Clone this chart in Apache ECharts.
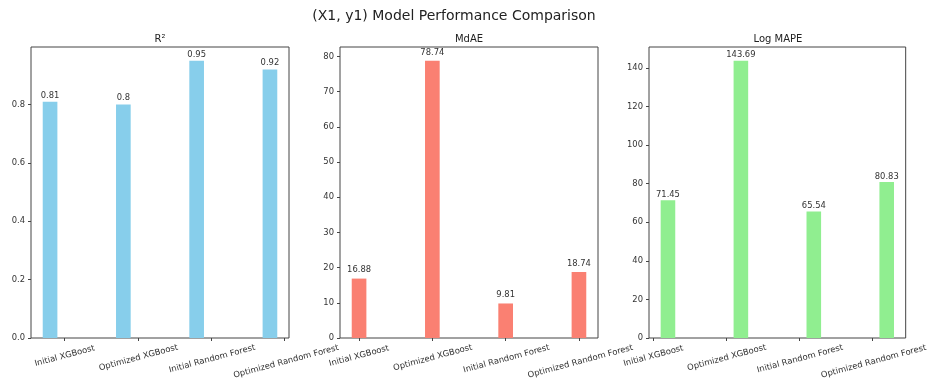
<!DOCTYPE html>
<html>
<head>
<meta charset="utf-8">
<script src="https://cdn.jsdelivr.net/npm/echarts@6/dist/echarts.min.js"></script>
<style>
html,body{margin:0;padding:0;background:#fff;}
#chart{width:930px;height:385px;}
</style>
</head>
<body>
<div id="chart"></div>
<script>
const mainTitle = '(X1, y1) Model Performance Comparison';
const models = ['Initial XGBoost', 'Optimized XGBoost', 'Initial Random Forest', 'Optimized Random Forest'];
const panelTitles = ['R²', 'MdAE', 'Log MAPE'];
const r2Values = [0.81, 0.8, 0.95, 0.92];
const mdaeValues = [16.88, 78.74, 9.81, 18.74];
const logMapeValues = [71.45, 143.69, 65.54, 80.83];
const r2Ticks = [0, 0.2, 0.4, 0.6, 0.8];
const mdaeTicks = [0, 10, 20, 30, 40, 50, 60, 70, 80];
const logMapeTicks = [0, 20, 40, 60, 80, 100, 120, 140];

const FONT = 'DejaVu Sans';
const TXT = '#333';
const panels = [
  { title: panelTitles[0], values: r2Values, ticks: r2Ticks, dec: 1, color: '#87CEEB', offset: -0.2, left: 31, labelGap: 2.3 },
  { title: panelTitles[1], values: mdaeValues, ticks: mdaeTicks, dec: 0, color: '#FA8072', offset: 0, left: 340, labelGap: 4.3 },
  { title: panelTitles[2], values: logMapeValues, ticks: logMapeTicks, dec: 0, color: '#90EE90', offset: 0.2, left: 649, labelGap: 1.7 }
];
const W = 258, TOP = 47, BOTTOM = 47;
const barW = 0.2;
const pads = [0, 3.6, 6, 11.6];

const grids = [], xAxes = [], yAxes = [], series = [], graphics = [];
graphics.push({ type: 'text', x: 454, y: 16, style: { text: mainTitle, align: 'center', verticalAlign: 'middle', fontFamily: FONT, fontSize: 14, fill: '#222' } });

panels.forEach((p, k) => {
  const xMin = p.offset - barW / 2 - 0.16;
  const xMax = models.length - 1 + p.offset + barW / 2 + 0.16;
  const yMax = Math.max(...p.values) * 1.05;
  grids.push({ left: p.left, width: W, top: TOP, bottom: BOTTOM, show: true, borderColor: '#444', borderWidth: 1, backgroundColor: 'transparent' });
  graphics.push({ type: 'text', x: p.left + W / 2, y: 39, style: { text: p.title, align: 'center', verticalAlign: 'middle', fontFamily: FONT, fontSize: 10, fill: '#222' } });
  const rich = {};
  pads.forEach((pd, i) => { rich['p' + i] = { padding: [pd, 0, 0, 0], fontFamily: FONT, fontSize: 8.4, color: TXT }; });
  xAxes.push({
    type: 'value', gridIndex: k, min: xMin, max: xMax, position: 'bottom',
    axisLine: { show: false, onZero: false }, splitLine: { show: false },
    axisTick: { show: true, inside: false, length: 3, lineStyle: { color: '#444' }, customValues: models.map((m, i) => i) },
    axisLabel: {
      customValues: models.map((m, i) => i), rotate: 15, align: 'center', verticalAlign: 'middle', margin: 18,
      fontFamily: FONT, fontSize: 8.4, color: TXT,
      formatter: v => { const i = Math.round(v); return '{p' + i + '|' + models[i] + '}'; }, rich
    }
  });
  yAxes.push({
    type: 'value', gridIndex: k, min: 0, max: yMax, position: 'left',
    axisLine: { show: false, onZero: false }, splitLine: { show: false },
    axisTick: { show: true, inside: false, length: 3, lineStyle: { color: '#444' }, customValues: p.ticks },
    axisLabel: { customValues: p.ticks, margin: 6, fontFamily: FONT, fontSize: 8.4, color: TXT, formatter: v => v.toFixed(p.dec) }
  });
  series.push({
    type: 'custom', xAxisIndex: k, yAxisIndex: k,
    data: p.values.map((v, i) => [i, v]),
    renderItem: (params, api) => {
      const i = api.value(0), v = api.value(1);
      const a = api.coord([i + p.offset - barW / 2, v]);
      const b = api.coord([i + p.offset + barW / 2, 0]);
      return {
        type: 'group', children: [
          { type: 'rect', shape: { x: a[0], y: a[1], width: b[0] - a[0], height: b[1] - a[1] }, style: { fill: p.color } },
          { type: 'text', style: { text: String(v), x: (a[0] + b[0]) / 2, y: a[1] - p.labelGap, align: 'center', verticalAlign: 'bottom', fontFamily: FONT, fontSize: 8.4, fill: TXT } }
        ]
      };
    }
  });
});

const chart = echarts.init(document.getElementById('chart'), null, { renderer: 'canvas' });
chart.setOption({ animation: false, backgroundColor: '#fff', grid: grids, xAxis: xAxes, yAxis: yAxes, series, graphic: graphics });
</script>
</body>
</html>
